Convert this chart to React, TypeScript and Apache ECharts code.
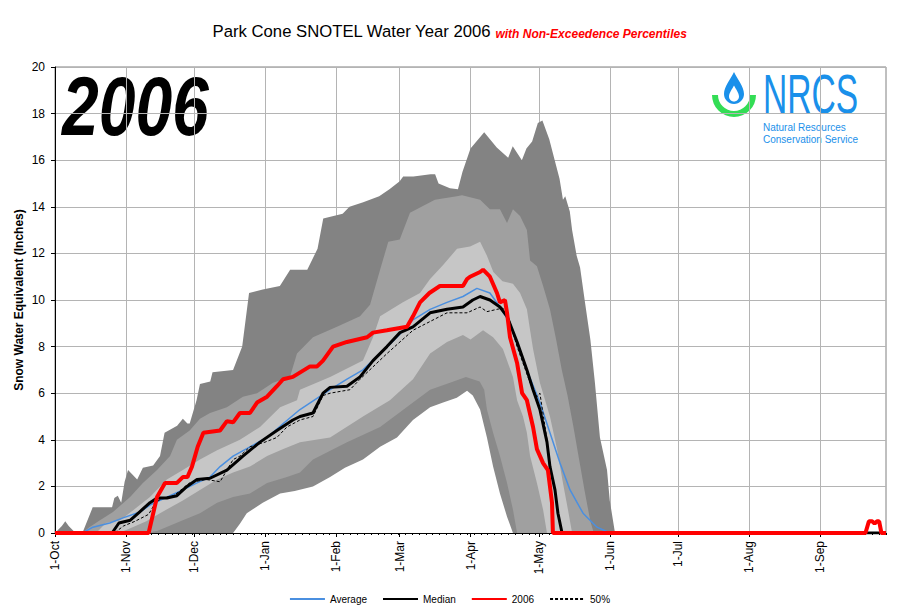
import React, { useEffect, useRef } from 'react';
import * as echarts from 'echarts';

const FONT = '"Liberation Sans", Arial, sans-serif';

// Water year months (1-Oct .. 30-Sep), day index 0..364
const monthNames = ['Oct', 'Nov', 'Dec', 'Jan', 'Feb', 'Mar', 'Apr', 'May', 'Jun', 'Jul', 'Aug', 'Sep'];
const monthLengths = [31, 30, 31, 31, 28, 31, 30, 31, 30, 31, 31, 30];
const yTicks = { min: 0, max: 20, interval: 2 };

// Percentile envelopes [dayIndex, inches]
const maxPct = [[0,0],[3,0.3],[4.5,0.5],[6,0.3],[9,0],[12,0],[16.5,1.1],[25,1.1],[26,1.5],[27.5,1.6],[29,1.3],[30.5,2.2],[32,2.7],[34,2.5],[36,2.3],[38.5,2.8],[43,2.9],[46,3.3],[48,4.3],[53.5,4.6],[56,4.9],[58,4.7],[59,4.7],[62,5.7],[63.5,6.4],[68,6.5],[69,6.9],[78,7.0],[82,8.0],[85,10.3],[91,10.45],[98.5,10.6],[103,11.3],[110.5,11.3],[115,12.2],[117.5,13.5],[126,13.7],[129,14.0],[135,14.2],[142,14.45],[146.5,14.75],[151,15.1],[152.5,15.3],[157,15.3],[164.5,15.4],[166.5,15.4],[168,15.0],[173,14.8],[176.5,14.75],[178.5,15.5],[182,16.5],[188,17.2],[193.5,16.55],[198.5,16.1],[200.5,16.6],[202.5,16.3],[204.5,16.0],[206.5,16.5],[209,16.8],[211.5,17.6],[213.5,17.7],[216.5,16.9],[219,15.96],[221,15.2],[222.5,14.3],[223.5,14.45],[225.5,13.8],[226.5,13.0],[228.5,11.9],[230,11.4],[232,10.0],[234.5,8.3],[236.5,6.45],[238.7,4.1],[241.8,2.7],[243,1.4],[245.3,0],[364,0]];
const p90 = [[0,0],[12,0],[15,0.25],[19.7,0.55],[25.4,0.9],[32.9,1.55],[38.5,2.15],[44.7,2.7],[50.4,3.3],[53.4,4.0],[59,4.4],[63.5,4.9],[67.9,5.15],[75.3,5.4],[82.3,5.85],[88.5,6.0],[95.5,6.45],[102.9,6.7],[106,7.7],[113,8.4],[123.5,8.85],[133.6,9.3],[138,9.8],[142.4,11.3],[146,12.5],[151,12.6],[155.5,13.75],[166.4,14.3],[176,14.45],[178.3,14.5],[186.2,14.3],[190.5,13.9],[194.9,13.9],[198,13.3],[200.6,13.9],[203.7,13.6],[206.7,13.0],[208.1,11.7],[211.1,11.45],[213.8,10.6],[216.8,9.6],[219.5,8.3],[222,7.0],[224.5,5.9],[227,4.6],[229.5,3.2],[232,1.8],[234.5,0.5],[236,0],[364,0]];
const p70 = [[0,0],[18,0],[22.3,0.43],[28.5,0.55],[35.9,1.1],[41.6,1.55],[49,2.3],[56,2.7],[63.5,3.15],[71,3.55],[81,4.0],[89.8,4.55],[98.6,5.4],[106,5.7],[107.3,6.15],[120.5,6.7],[134.9,7.4],[139.3,8.4],[142.4,9.3],[152.4,9.9],[159.9,10.3],[164.3,10.9],[170,11.5],[176.1,12.2],[181.8,12.3],[186.2,12.5],[189.2,11.9],[192,11.2],[196,10.8],[200.6,10.7],[203.7,10.3],[206.7,9.6],[208.1,8.7],[209.4,7.9],[212.4,6.45],[216.8,5.0],[219.9,3.6],[222.5,2.15],[224.7,1.0],[226.5,0],[364,0]];
const p30 = [[0,0],[28,0],[33,0.2],[40,0.5],[46,0.85],[56,1.4],[63.5,1.85],[71,2.3],[78,2.6],[85.4,2.85],[92.9,3.3],[100,3.6],[107.3,3.9],[120.5,4.1],[134.9,5.0],[146.7,5.7],[156.8,6.6],[164.3,7.7],[171.7,8.2],[178.7,8.5],[182,8.3],[187.5,8.7],[191.9,8.4],[196.2,7.9],[200.6,6.7],[202.4,5.7],[205,5.0],[206.7,4.3],[208.1,3.3],[211.1,2.15],[213.8,1.0],[215.5,0],[364,0]];
const p10 = [[0,0],[40,0],[45,0.1],[56,0.55],[63.5,0.85],[71,1.3],[78,1.55],[85.4,1.7],[92.9,2.15],[101.6,2.4],[107.3,2.6],[113,3.15],[127.9,3.9],[142.4,4.55],[156.8,5.6],[164.3,6.15],[173,6.45],[180,6.7],[186,6.5],[188,6.15],[189.2,5.3],[191.9,4.3],[194.9,3.3],[198,2.15],[200.6,1.0],[202.4,0],[364,0]];
const minPct = [[0,0],[78,0],[81,0.4],[84,0.85],[91,1.3],[98.6,1.7],[105,1.8],[113,2.0],[120.5,2.4],[127,2.8],[134.9,3.15],[142.4,3.7],[149.8,4.1],[156.8,4.85],[164.3,5.4],[170,5.6],[176,5.8],[180.5,6.1],[183,5.9],[186.2,5.3],[189.2,4.1],[191.9,2.85],[194.9,1.7],[198,0.7],[200.6,0],[364,0]];

// Lines
const average = [[0,0],[12,0],[16.6,0.25],[24,0.43],[29.8,0.65],[37.2,0.9],[41.6,1.2],[46,1.4],[50.4,1.6],[56,1.85],[62.2,2.15],[67.9,2.4],[72.3,2.85],[78,3.3],[85.4,3.7],[92.9,4.1],[100,4.7],[107.3,5.3],[120.5,6.15],[127.9,6.6],[134.9,7.0],[142.4,7.7],[149.8,8.4],[156.8,9.15],[164.3,9.6],[171.7,9.9],[178.7,10.15],[184.8,10.5],[190.5,10.3],[194.9,9.7],[199.3,9.0],[205,7.4],[212.4,5.6],[216.8,4.3],[221.2,3.0],[225.6,1.85],[231.3,0.85],[237.4,0.25],[243.1,0],[364,0]];
const median = [[0,0],[25,0],[28,0.43],[33,0.55],[37,0.9],[41.6,1.3],[44.7,1.5],[49,1.5],[53.4,1.6],[57.8,2.0],[62.2,2.3],[67.9,2.35],[75.3,2.7],[82.3,3.3],[89.8,3.9],[97.2,4.4],[104.2,4.85],[107.3,5.0],[113,5.15],[117.4,6.0],[120.5,6.25],[127.9,6.3],[133.6,6.7],[139.3,7.4],[145.4,8.0],[151.1,8.6],[156.8,8.85],[164.3,9.45],[171.7,9.6],[178.7,9.7],[183,10.0],[186.2,10.15],[190.5,10.0],[194.9,9.7],[198,9.3],[202.4,8.2],[206.7,7.0],[209.4,6.15],[212.4,5.3],[215.5,3.9],[216.8,2.85],[219,1.85],[220.3,0.85],[222.1,0],[364,0]];
const wy2006 = [[0,0],[41,0],[44.7,1.55],[48.2,2.15],[53.4,2.15],[56,2.4],[58,2.4],[60,2.85],[62.5,3.7],[65,4.3],[72.3,4.4],[75.3,4.8],[78,4.75],[81,5.15],[85.4,5.15],[88.5,5.6],[92.9,5.85],[97.2,6.3],[99.9,6.6],[104.2,6.7],[111.7,7.15],[114.8,7.15],[117.4,7.4],[121.8,8.0],[127.9,8.2],[136.7,8.4],[139.3,8.6],[145.4,8.7],[154.2,8.85],[156.8,9.3],[159.9,9.9],[164,10.3],[168.6,10.6],[178.7,10.6],[180.5,10.9],[181.8,11.0],[186.2,11.2],[187.5,11.3],[190.5,11.0],[193.6,10.3],[194.9,9.9],[197.1,10.0],[198,9.45],[199.3,8.4],[202.4,7.3],[204.6,6.0],[206.7,5.7],[209.4,4.55],[211.1,3.6],[213.8,3.0],[215.9,2.7],[217.7,1.3],[218.1,0],[355,0],[356.5,0.5],[358,0.5],[359,0.4],[360,0.5],[361,0.5],[362,0],[364,0]];
const pct50 = [[0,0],[26,0],[30,0.3],[35,0.5],[41,0.8],[44,1.3],[47,1.5],[52,1.6],[59,2.15],[66,2.3],[72.3,2.2],[75.3,2.7],[78,3.15],[81,3.3],[85.4,3.7],[92,3.9],[97.2,4.1],[101.6,4.55],[107.3,4.85],[113,5.0],[117.4,5.9],[120.5,6.0],[129.2,6.15],[133.6,6.6],[145.4,7.7],[156.8,8.7],[171.7,9.45],[180.5,9.45],[186.2,9.7],[189.2,9.5],[193.6,9.6],[196.2,9.65],[198.5,9.3],[202.4,8.0],[208.1,6.45],[211.1,5.85],[212.4,6.0],[215.5,4.0],[217,2.8],[219,1.85],[220.3,0.85],[222.1,0],[364,0]];

const DROP_PATH = 'M0,-2.2 C0.35,-1.5 1,-0.7 1,0 C1,0.552 0.552,1 0,1 C-0.552,1 -1,0.552 -1,0 C-1,-0.7 -0.35,-1.5 0,-2.2 Z';
let dropRegistered = false;

export default function App() {
  const ref = useRef<HTMLDivElement>(null);
  useEffect(() => {
    if (!ref.current) return;
    if (!dropRegistered) {
      echarts.graphic.registerShape('drop', echarts.graphic.extendPath(DROP_PATH, {}));
      dropRegistered = true;
    }
    const monthStarts: number[] = [];
    let acc = 0;
    monthLengths.forEach((len) => { monthStarts.push(acc); acc += len; });
    const labelFor = (v: number) => {
      const i = monthStarts.indexOf(Math.round(v));
      return i >= 0 ? '1-' + monthNames[i] : '';
    };

    const chart = echarts.init(ref.current, null, { renderer: 'svg' });
    const band = (name: string, data: number[][], color: string) => ({
      type: 'line', name, data, symbol: 'none', showSymbol: false, silent: true,
      lineStyle: { width: 0, opacity: 0 }, areaStyle: { color, opacity: 1 },
      emphasis: { disabled: true }, animation: false,
    });
    const option: any = {
      animation: false,
      backgroundColor: '#ffffff',
      textStyle: { fontFamily: FONT },
      title: {
        text: '{a|Park Cone SNOTEL Water Year 2006} {b|with Non-Exceedence Percentiles}',
        left: 'center', top: 18,
        textStyle: {
          fontFamily: FONT, fontSize: 16, fontWeight: 'normal', color: '#000',
          rich: {
            a: { fontFamily: FONT, fontSize: 16.7, color: '#000', verticalAlign: 'bottom' },
            b: { fontFamily: FONT, fontSize: 12, fontStyle: 'italic', fontWeight: 'bold', color: '#ff0000', verticalAlign: 'bottom' },
          },
        },
      },
      grid: { left: 55, right: 13, top: 67, bottom: 80, show: true, borderColor: '#808080', borderWidth: 1, backgroundColor: 'transparent' },
      legend: {
        data: ['Average', 'Median', '2006', '50%'],
        left: 'center', top: 589, itemWidth: 35, itemHeight: 10, itemGap: 15,
        itemStyle: { opacity: 0, borderWidth: 0 },
        textStyle: { fontFamily: FONT, fontSize: 10, color: '#000' },
      },
      xAxis: [
        {
          type: 'value', min: 0, max: 364, position: 'bottom',
          axisLine: { show: true, onZero: false, lineStyle: { color: '#000', width: 1 } },
          axisTick: { show: true, customValues: monthStarts, length: 4, lineStyle: { color: '#000' } },
          axisLabel: { show: true, customValues: monthStarts, rotate: 90, margin: 8, color: '#000', fontSize: 12, fontFamily: FONT, formatter: labelFor },
          splitLine: { show: true, lineStyle: { color: '#b4b4b4', width: 1 } },
        },
        {
          type: 'value', min: 0, max: 363, interval: 3, position: 'bottom',
          axisLine: { show: false }, axisLabel: { show: false }, splitLine: { show: false },
          axisTick: { show: true, length: 2, lineStyle: { color: '#000' } },
        },
      ],
      yAxis: {
        type: 'value', min: yTicks.min, max: yTicks.max, interval: yTicks.interval,
        axisLine: { show: true, lineStyle: { color: '#000', width: 1 } },
        axisTick: { show: true, length: 4, lineStyle: { color: '#000' } },
        axisLabel: { color: '#000', fontSize: 12, fontFamily: FONT, margin: 10 },
        splitLine: { show: true, lineStyle: { color: '#b4b4b4', width: 1 } },
        name: 'Snow Water Equivalent (Inches)', nameLocation: 'middle', nameGap: 30,
        nameMoveOverlap: false,
        nameTextStyle: { fontFamily: FONT, fontWeight: 'bold', fontSize: 12, color: '#000' },
      },
      series: [
        band('Max', maxPct, '#838383'),
        band('90%', p90, '#a0a0a0'),
        band('70%', p70, '#c6c6c6'),
        band('30%', p30, '#a0a0a0'),
        band('10%', p10, '#8a8a8a'),
        band('Min', minPct, '#ffffff'),
        { type: 'line', name: 'Average', data: average, symbol: 'none', color: '#4a8fe0', lineStyle: { color: '#4a8fe0', width: 1.5 } },
        { type: 'line', name: '50%', data: pct50, symbol: 'none', color: '#000', lineStyle: { color: '#000', width: 1, type: [3, 2] } },
        { type: 'line', name: 'Median', data: median, symbol: 'none', color: '#000', lineStyle: { color: '#000', width: 3 } },
        { type: 'line', name: '2006', data: wy2006, symbol: 'none', color: '#ff0000', lineStyle: { color: '#ff0000', width: 4 } },
      ],
      graphic: [
        { type: 'text', x: 62, y: 64, scaleY: 1.27, style: { text: '2006', font: 'italic bold 66px ' + FONT, fill: '#000', align: 'left', verticalAlign: 'top' } },
        { type: 'sector', shape: { cx: 734, cy: 95, r0: 16, r: 22, startAngle: 0, endAngle: Math.PI, clockwise: true }, style: { fill: '#33dd55' } },
        { type: 'drop', x: 734, y: 94, scaleX: 10, scaleY: 10, style: { fill: '#1a90ea' } },
        { type: 'drop', x: 734, y: 96.5, scaleX: 5, scaleY: 5, style: { fill: '#ffffff' } },
        { type: 'text', x: 763, y: 65.7, scaleX: 0.6, style: { text: 'NRCS', font: '56px ' + FONT, fill: '#1a90ea', align: 'left', verticalAlign: 'top' } },
        { type: 'text', x: 763, y: 127, style: { text: 'Natural Resources', font: '10px ' + FONT, fill: '#1a90ea', align: 'left', verticalAlign: 'middle' } },
        { type: 'text', x: 763, y: 139, style: { text: 'Conservation Service', font: '10px ' + FONT, fill: '#1a90ea', align: 'left', verticalAlign: 'middle' } },
      ],
    };
    chart.setOption(option);
    return () => chart.dispose();
  }, []);
  return <div ref={ref} style={{ position: 'fixed', left: 0, top: 0, width: 899, height: 613, background: '#fff' }} />;
}
